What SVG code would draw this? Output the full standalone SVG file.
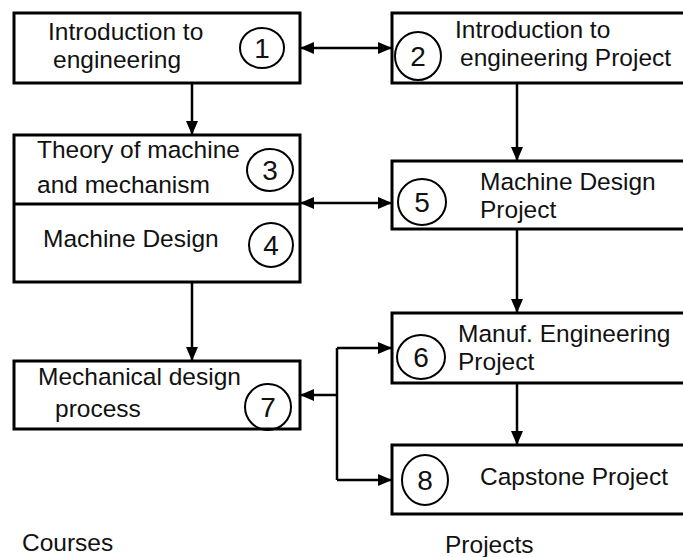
<svg xmlns="http://www.w3.org/2000/svg" width="683" height="557" viewBox="0 0 683 557">
  <style>
    .box { fill: #ffffff; stroke: #000000; stroke-width: 3; }
    .num { fill: none; stroke: #000000; stroke-width: 2; }
    .lbl { font-family: "Liberation Sans", Arial, sans-serif; font-size: 24.5px; fill: #111111; }
    .dig { font-family: "Liberation Sans", Arial, sans-serif; font-size: 28px; fill: #111111; text-anchor: middle; }
    .wire { fill: none; stroke: #000000; stroke-width: 2.5; }
  </style>
  <defs>
    <marker id="ah" markerUnits="userSpaceOnUse" markerWidth="14" markerHeight="12" refX="14" refY="6" orient="auto-start-reverse">
      <path d="M0,0 L14,6 L0,12 z" fill="#000000"/>
    </marker>
  </defs>

  <rect width="683" height="557" fill="#ffffff"/>

  <!-- connectors -->
  <g id="connectors">
    <path class="wire" d="M300,48 L392,48" marker-start="url(#ah)" marker-end="url(#ah)"/>
    <path class="wire" d="M192,83 L192,135" marker-end="url(#ah)"/>
    <path class="wire" d="M517,83 L517,161" marker-end="url(#ah)"/>
    <path class="wire" d="M300,203 L392,203" marker-start="url(#ah)" marker-end="url(#ah)"/>
    <path class="wire" d="M192,282 L192,361" marker-end="url(#ah)"/>
    <path class="wire" d="M517,229 L517,313" marker-end="url(#ah)"/>
    <path class="wire" d="M517,383 L517,445" marker-end="url(#ah)"/>
    <path class="wire" d="M337,395 L300,395" marker-end="url(#ah)"/>
    <path class="wire" d="M337,348 L337,480"/>
    <path class="wire" d="M337,348 L392,348" marker-end="url(#ah)"/>
    <path class="wire" d="M337,480 L392,480" marker-end="url(#ah)"/>
  </g>

  <!-- course column -->
  <g id="n1">
    <rect class="box" x="14" y="13" width="286" height="70"/>
    <text class="lbl" x="48" y="40">Introduction to</text>
    <text class="lbl" x="53" y="68">engineering</text>
    <ellipse class="num" cx="262" cy="48" rx="22" ry="20"/>
    <text class="dig" x="262" y="58">1</text>
  </g>

  <g id="n3-n4">
    <rect class="box" x="14" y="135" width="286" height="147"/>
    <line class="box" x1="14" y1="204" x2="300" y2="204"/>
    <g id="n3">
      <text class="lbl" x="37" y="158">Theory of machine</text>
      <text class="lbl" x="37" y="193">and mechanism</text>
      <ellipse class="num" cx="270" cy="170" rx="23" ry="21"/>
      <text class="dig" x="270" y="180">3</text>
    </g>
    <g id="n4">
      <text class="lbl" x="43" y="247">Machine Design</text>
      <ellipse class="num" cx="271" cy="245" rx="22" ry="22"/>
      <text class="dig" x="271" y="255">4</text>
    </g>
  </g>

  <g id="n7">
    <rect class="box" x="14" y="361" width="286" height="68"/>
    <text class="lbl" x="38" y="385">Mechanical design</text>
    <text class="lbl" x="55" y="417">process</text>
    <ellipse class="num" cx="268" cy="407" rx="23" ry="23"/>
    <text class="dig" x="268" y="417">7</text>
  </g>

  <!-- project column -->
  <g id="n2">
    <rect class="box" x="392" y="13" width="300" height="70"/>
    <text class="lbl" x="455" y="38">Introduction to</text>
    <text class="lbl" x="460" y="66">engineering Project</text>
    <ellipse class="num" cx="418" cy="56" rx="23" ry="24"/>
    <text class="dig" x="418" y="66">2</text>
  </g>

  <g id="n5">
    <rect class="box" x="392" y="161" width="300" height="68"/>
    <text class="lbl" x="480" y="190">Machine Design</text>
    <text class="lbl" x="480" y="218">Project</text>
    <ellipse class="num" cx="422" cy="202" rx="24" ry="23"/>
    <text class="dig" x="422" y="212">5</text>
  </g>

  <g id="n6">
    <rect class="box" x="392" y="313" width="300" height="70"/>
    <text class="lbl" x="458" y="342">Manuf. Engineering</text>
    <text class="lbl" x="458" y="370">Project</text>
    <ellipse class="num" cx="421" cy="357" rx="24" ry="22"/>
    <text class="dig" x="421" y="367">6</text>
  </g>

  <g id="n8">
    <rect class="box" x="392" y="445" width="300" height="69"/>
    <text class="lbl" x="480" y="485">Capstone Project</text>
    <ellipse class="num" cx="425" cy="480" rx="23" ry="25"/>
    <text class="dig" x="425" y="490">8</text>
  </g>

  <!-- column captions -->
  <text id="courses" class="lbl" x="22" y="551">Courses</text>
  <text id="projects" class="lbl" x="445" y="553">Projects</text>
</svg>
